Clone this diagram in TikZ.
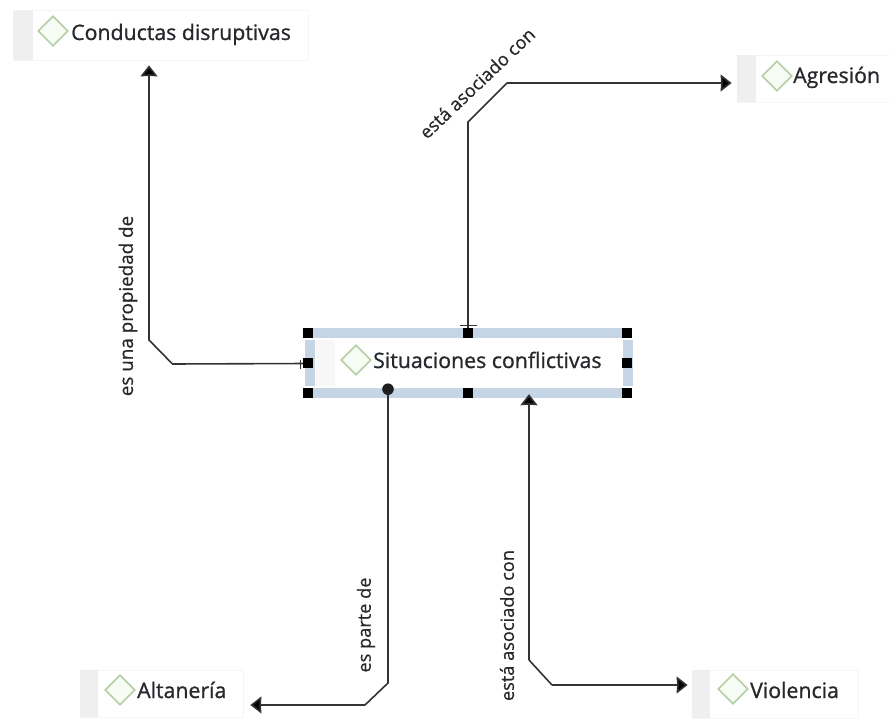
\documentclass[tikz,border=0pt]{standalone}
\usepackage{fontspec}
\setmainfont{Open Sans}
\newfontfamily\labfont{Open Sans}[FakeBold=1]
\newfontfamily\relfont{Open Sans}[FakeBold=0.6]
\usetikzlibrary{arrows.meta,calc,shapes.geometric}
\definecolor{linec}{HTML}{333333}
\definecolor{stripc}{HTML}{EFEFEF}
\definecolor{edgec}{HTML}{F5F5F5}
\definecolor{selc}{HTML}{C5D5E5}
\definecolor{diamc}{HTML}{B4CFA6}
\definecolor{diamf}{HTML}{F6FBF4}
\definecolor{txtc}{HTML}{26282B}
\tikzset{
  concept/.style={draw=edgec,line width=0.8pt,fill=white,minimum height=#1,inner sep=0pt},
  diam/.style={diamond,aspect=1,draw=diamc,fill=diamf,line width=1.6pt,minimum width=30pt,minimum height=30pt,inner sep=0pt},
  lab/.style={font=\labfont\fontsize{21.3}{24}\selectfont,text=txtc,anchor=base west,inner sep=0pt},
  rel/.style={font=\relfont\fontsize{#1}{20}\selectfont,text=txtc,inner sep=0pt},
  rel/.default=18.2,
  conn/.style={draw=linec,line width=1.6pt},
  arr/.style={conn,-{Stealth[length=11pt,width=17pt,inset=0.5pt,fill=black]},shorten >=#1},
  handle/.style={fill=black,draw=none,minimum size=10.5pt,inner sep=0pt},
  band/.style={fill=selc,draw=none}
}
\begin{document}
\begin{tikzpicture}[x=1pt,y=-1pt]
\useasboundingbox[fill=white] (0,0) rectangle (889,719);
% Conductas disruptivas
\node[concept=50pt,minimum width=295pt] (cond) at (160.5,35) {};
\fill[stripc] (13,10) rectangle (33,60);
\node[diam] (condD) at (53,31) {};
\node[lab] (condT) at (71,40) {Conductas disruptivas};
% Agresion
\node[concept=47pt,minimum width=152pt] (agre) at (813,78.5) {};
\fill[stripc] (737,55) rectangle (756,102);
\node[diam] (agreD) at (777,76) {};
\node[lab] (agreT) at (793,83) {Agresión};
% Altaneria
\node[concept=47pt,minimum width=163pt] (alta) at (161.5,693.5) {};
\fill[stripc] (80,670) rectangle (98,717);
\node[diam] (altaD) at (120,690) {};
\node[lab] (altaT) at (137,698) {Altanería};
% Violencia
\node[concept=48pt,minimum width=166pt] (viol) at (775,694) {};
\fill[stripc] (692,670) rectangle (710,718);
\node[diam] (violD) at (733,689) {};
\node[lab] (violT) at (750,698) {Violencia};
% Situaciones conflictivas
\node[draw=none,fill=white,minimum width=319pt,minimum height=61pt,inner sep=0pt] (sit) at (468,363.5) {};
\fill[stripc!50!white] (316,340) rectangle (335,386);
\fill[band] (308,328) rectangle (627,338);
\fill[band] (308,388) rectangle (627,398);
\fill[band] (305,340) rectangle (315,386);
\fill[band] (623,340) rectangle (633,386);
\node[diam] (sitD) at (356,360) {};
\node[lab] (sitT) at (373,368) {Situaciones conflictivas};
% connector bends
\coordinate (c1) at (172,364);
\coordinate (c2) at (149,340);
\coordinate (c3) at (468,122);
\coordinate (c4) at (507,83);
\coordinate (c5) at (388,683);
\coordinate (c6) at (365,705);
\coordinate (c7) at (529,660);
\coordinate (c8) at (552,685);
% connectors
\draw[arr=5pt] (c1 |- sit.west) -- (c2) -- (c2 |- cond.south);
\draw[conn] (sit.west) -- (c1);
\draw[conn] (sit.north) -- (c3) -- (c4);
\draw[arr=5pt] (c4) -- (c4 -| agre.west);
\draw[conn] ([xshift=-80pt,yshift=5pt]sit.south) -- (c5) -- (c6);
\draw[arr=7pt] (c6) -- (c6 -| alta.east);
\fill[linec!60!black] ([xshift=-80pt,yshift=5pt]sit.south) circle (5.8pt);
\draw[arr=0pt] (c7) -- ([xshift=61pt]sit.south);
\draw[conn] (c7) -- (c8);
\draw[arr=4pt] (c8) -- (c8 -| viol.west);
% small bar tips
\draw[linec,line width=1pt] (460,325.5) -- (477,325.5);
\draw[linec,line width=1pt] (300.5,359.5) -- (300.5,368.5);
% handles
\foreach \n/\px/\py in {h1/308/333,h2/468/333,h3/627/333,h4/308/363,h5/627/363,h6/308/393,h7/468/393,h8/627/393}
  \node[handle] (\n) at (\px,\py) {};
% relation labels
\node[rel=18.8,rotate=90] (r1) at (128,306) {es una propiedad de};
\node[rel,rotate=43.5] (r2) at (477,83) {está asociado con};
\node[rel,rotate=90] (r3) at (366,625) {es parte de};
\node[rel,rotate=90] (r4) at (507,625.5) {está asociado con};
\end{tikzpicture}
\end{document}
